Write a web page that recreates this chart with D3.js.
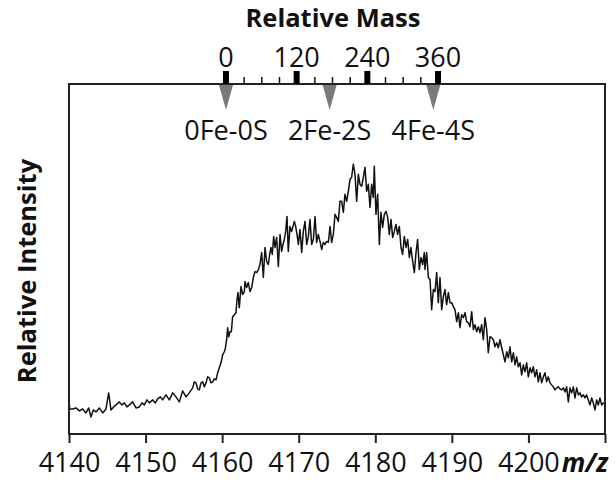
<!DOCTYPE html>
<html><head><meta charset="utf-8">
<script src="https://cdn.jsdelivr.net/npm/d3@7"></script>
<style>body{margin:0;background:#fff} svg{display:block}</style>
</head><body><svg id="c" width="616" height="483"></svg>
<script>
// ---- data ----
const mzTicks = [4140, 4150, 4160, 4170, 4180, 4190, 4200, 4210];
const mzTickLabels = ["4140", "4150", "4160", "4170", "4180", "4190", "4200", ""];
const massMajorTicks = [0, 120, 240, 360];
const massMinorTicks = [30, 60, 90, 150, 180, 210, 270, 300, 330];
const clusterNames = ["0Fe-0S", "2Fe-2S", "4Fe-4S"];
const clusterMasses = [0, 176, 352];
const zeroMassMz = 4160.5;
const chargeState = 13;
// [m/z, intensity (arbitrary counts)]
const spectrum = [
[4140.00,330],[4140.10,250],[4140.48,250],[4140.91,260],[4141.35,230],[4141.78,250],[4142.22,210],[4142.57,260],
[4142.87,170],[4143.18,240],[4143.53,220],[4143.96,260],[4144.40,210],[4144.83,250],[4145.18,410],[4145.48,240],
[4145.83,270],[4146.14,290],[4146.57,320],[4146.92,290],[4147.23,310],[4147.57,270],[4147.88,290],[4148.31,320],
[4148.75,260],[4149.18,270],[4149.53,310],[4149.84,290],[4150.19,340],[4150.49,310],[4150.93,340],[4151.27,310],
[4151.58,350],[4151.93,370],[4152.23,340],[4152.67,390],[4153.10,340],[4153.54,410],[4153.97,370],[4154.41,320],
[4154.84,430],[4155.28,370],[4155.71,410],[4156.15,460],[4156.37,520],[4156.58,510],[4156.80,450],[4157.02,440],
[4157.24,510],[4157.46,520],[4157.67,470],[4157.89,510],[4158.11,570],[4158.33,560],[4158.54,510],[4158.76,520],
[4158.98,550],[4159.20,540],[4159.41,610],[4159.63,660],[4159.85,710],[4160.07,790],[4160.28,820],[4160.41,850],
[4160.59,940],[4160.72,1060],[4160.85,970],[4161.02,1020],[4161.20,1020],[4161.37,1170],[4161.59,1190],[4161.81,1210],
[4161.94,1340],[4162.07,1410],[4162.24,1260],[4162.46,1470],[4162.68,1390],[4162.90,1420],
[4162.99,1520],[4163.20,1460],[4163.42,1510],[4163.64,1420],[4163.86,1460],[4164.07,1560],[4164.29,1620],[4164.51,1610],
[4164.73,1640],[4164.94,1690],[4165.16,1810],[4165.38,1560],[4165.60,1860],[4165.81,1720],[4166.03,1690],[4166.21,1790],
[4166.38,1860],[4166.55,1790],[4166.73,1970],[4166.90,1860],[4167.12,1960],[4167.34,1670],[4167.56,1990],[4167.77,1820],
[4167.95,1890],[4168.12,1940],[4168.30,2020],[4168.47,2170],[4168.64,1820],[4168.86,2070],[4169.08,2020],[4169.25,2070],
[4169.43,2120],[4169.60,2070],[4169.78,1990],[4169.95,1890],[4170.17,2040],[4170.39,1810],[4170.60,2020],[4170.82,2120],
[4171.04,1890],[4171.26,1970],[4171.47,2140],[4171.69,1890],[4171.91,1940],[4172.13,2170],[4172.34,1910],[4172.56,1990],
[4172.78,1920],[4173.00,1840],[4173.21,1910],[4173.43,1890],[4173.65,1920],[4173.87,1910],[4174.09,2070],[4174.30,1910],
[4174.52,1990],[4174.74,2190],[4174.96,2160],[4175.17,2120],[4175.39,2320],[4175.61,2320],[4175.83,2210],[4176.04,2390],
[4176.26,2320],[4176.48,2420],[4176.70,2540],[4176.91,2560],[4177.13,2690],[4177.35,2590],[4177.57,2320],[4177.79,2590],
[4178.00,2490],[4178.22,2470],[4178.44,2560],[4178.66,2660],[4178.87,2420],[4179.09,2490],[4179.31,2260],[4179.53,2490],
[4179.74,2360],[4179.87,2670],[4180.09,2190],[4180.31,2390],[4180.53,1890],[4180.74,2210],[4180.96,2060],[4181.18,2190],
[4181.40,2220],[4181.62,2160],[4181.83,1990],[4182.05,2140],[4182.27,1960],[4182.49,2020],[4182.70,2090],[4182.92,1990],
[4183.14,2070],[4183.36,1860],[4183.57,1790],[4183.79,1970],[4184.01,1860],[4184.23,1940],[4184.45,1760],[4184.66,1860],
[4184.88,1720],[4185.10,1610],[4185.32,1810],[4185.53,1940],[4185.75,1640],[4185.97,1760],[4186.19,1690],[4186.40,1810],
[4186.49,1640],[4186.71,1810],[4186.93,1560],[4187.15,1540],[4187.36,1240],[4187.58,1440],[4187.80,1420],[4188.02,1610],
[4188.23,1310],[4188.45,1560],[4188.67,1240],[4188.89,1370],[4189.10,1440],[4189.32,1290],[4189.54,1410],[4189.76,1310],
[4189.98,1310],[4190.19,1270],[4190.41,1240],[4190.63,1120],[4190.85,1210],[4191.06,1060],[4191.28,1190],[4191.50,1160],
[4191.72,1210],[4191.93,1120],[4192.15,1110],[4192.37,1070],[4192.59,1220],[4192.81,1040],[4193.02,1090],[4193.24,1020],
[4193.46,1070],[4193.68,1010],[4193.89,1090],[4194.11,940],[4194.33,1160],[4194.55,1040],[4194.76,810],[4194.98,970],
[4195.20,960],[4195.42,940],[4195.63,870],[4195.85,910],[4196.07,860],[4196.29,940],[4196.51,860],[4196.72,790],
[4196.94,720],[4197.16,820],[4197.38,760],[4197.59,870],[4197.81,720],[4198.03,810],[4198.25,690],[4198.46,770],
[4198.68,670],[4198.90,710],[4199.12,590],[4199.33,690],[4199.55,620],[4199.77,710],[4199.99,570],[4200.21,660],
[4200.42,610],[4200.64,670],[4200.86,570],[4201.08,640],[4201.29,520],[4201.51,610],[4201.73,510],[4201.95,570],
[4202.16,610],[4202.38,520],[4202.60,570],[4202.82,510],[4203.03,490],[4203.25,470],[4203.47,440],[4203.69,460],
[4203.91,470],[4204.12,450],[4204.34,440],[4204.56,460],[4204.78,420],[4204.99,470],[4205.21,320],[4205.43,460],
[4205.65,410],[4205.86,470],[4206.08,360],[4206.30,460],[4206.52,390],[4206.73,410],[4206.95,370],[4207.17,390],
[4207.39,360],[4207.60,390],[4207.82,340],[4208.04,290],[4208.26,360],[4208.47,310],[4208.69,240],[4208.91,340],
[4209.13,290],[4209.34,360],[4209.56,290],[4209.78,310],[4210.00,310]
];

// ---- layout ----
const FONT = "'Open Sans', 'Noto Sans', sans-serif";
const svg = d3.select("#c");
const box = {left: 69, right: 605, top: 84, bottom: 434};
const x = d3.scaleLinear().domain([4140, 4210]).range([box.left, box.right]);
const y = d3.scaleLinear().domain([0, 3490]).range([box.bottom, box.top]);
const mass = d3.scaleLinear().domain([0, 360])
  .range([x(zeroMassMz), x(zeroMassMz + 360 / chargeState)]);

// spectrum line
svg.append("path").datum(spectrum)
  .attr("fill", "none").attr("stroke", "#111").attr("stroke-width", 1.5)
  .attr("stroke-linejoin", "round")
  .attr("d", d3.line().x(d => x(d[0])).y(d => y(d[1])));

// bottom axis
const xAxis = svg.append("g").attr("transform", `translate(0,${box.bottom})`)
  .call(d3.axisBottom(x).tickValues(mzTicks).tickFormat((d, i) => mzTickLabels[i])
    .tickSize(9).tickSizeOuter(0).tickPadding(10));
xAxis.select(".domain").remove();
xAxis.selectAll(".tick line").attr("stroke", "#222").attr("stroke-width", 2);
xAxis.selectAll(".tick text").attr("font-family", FONT).attr("font-size", 27).attr("fill", "#111");

// frame
svg.append("rect").attr("x", box.left).attr("y", box.top)
  .attr("width", box.right - box.left).attr("height", box.bottom - box.top)
  .attr("fill", "none").attr("stroke", "#222").attr("stroke-width", 2);

// m/z label
svg.append("text").attr("x", box.right + 3).attr("y", 472).attr("text-anchor", "end")
  .attr("font-family", FONT).attr("font-size", 26).attr("font-weight", "bold")
  .attr("font-style", "italic").attr("fill", "#111").text("m/z");

// y label
svg.append("text").attr("transform", `translate(36,${(box.top + box.bottom) / 2 + 12}) rotate(-90)`)
  .attr("text-anchor", "middle").attr("font-family", FONT).attr("font-size", 25.5)
  .attr("font-weight", "bold").attr("fill", "#111").text("Relative Intensity");

// top relative-mass axis
const topAxis = svg.append("g").attr("transform", `translate(0,${box.top})`)
  .call(d3.axisTop(mass).tickValues(massMinorTicks).tickFormat("").tickSize(7).tickSizeOuter(0));
topAxis.select(".domain").remove();
topAxis.selectAll(".tick line").attr("stroke", "#111").attr("stroke-width", 1.5);

svg.selectAll("rect.major").data(massMajorTicks).join("rect").attr("class", "major")
  .attr("x", d => mass(d) - 3).attr("y", box.top - 13).attr("width", 6).attr("height", 13)
  .attr("fill", "#000");

svg.selectAll("text.massLabel").data(massMajorTicks).join("text").attr("class", "massLabel")
  .attr("x", d => mass(d)).attr("y", 67).attr("text-anchor", "middle")
  .attr("font-family", FONT).attr("font-size", 27).attr("fill", "#111").text(d => d);

svg.append("text").attr("x", (box.left + box.right) / 2 - 4).attr("y", 27).attr("text-anchor", "middle")
  .attr("font-family", FONT).attr("font-size", 25.5).attr("font-weight", "bold")
  .attr("fill", "#111").text("Relative Mass");

// cluster markers
svg.selectAll("path.marker").data(clusterMasses).join("path").attr("class", "marker")
  .attr("d", d => `M${mass(d) - 7},${box.top + 1} L${mass(d) + 7},${box.top + 1} L${mass(d)},${box.top + 26} Z`)
  .attr("fill", "#7a7a7a");

svg.selectAll("text.cluster").data(clusterNames).join("text").attr("class", "cluster")
  .attr("x", (d, i) => mass(clusterMasses[i])).attr("y", 140).attr("text-anchor", "middle")
  .attr("font-family", FONT).attr("font-size", 27).attr("fill", "#111").text(d => d);
</script></body></html>
